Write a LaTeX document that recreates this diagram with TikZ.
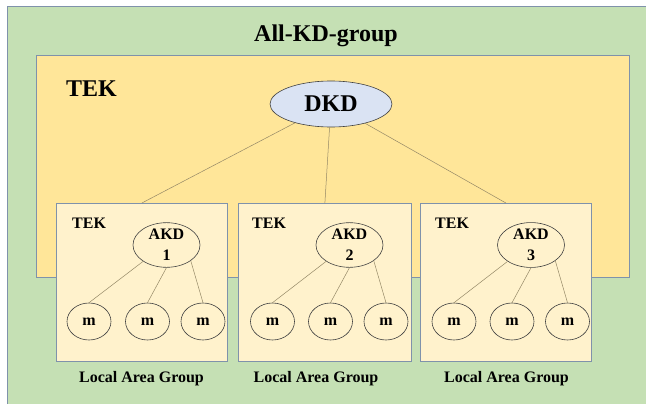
\documentclass[tikz,border=0pt]{standalone}
\usepackage{fontspec}
\setmainfont{Liberation Serif}
\usepackage{tikz}
\usetikzlibrary{shapes.geometric}
\definecolor{allgreen}{HTML}{C5E0B4}
\definecolor{tekorange}{HTML}{FFE699}
\definecolor{lagcream}{HTML}{FFF2CC}
\definecolor{dkdblue}{HTML}{DAE3F3}
\definecolor{frameblue}{HTML}{7F92AB}
\definecolor{linkgray}{HTML}{948866}

\begin{document}
\begin{tikzpicture}[x=1pt, y=-1pt,
    area/.style={draw=frameblue, line width=0.8pt, inner sep=0pt, anchor=north west},
    lag/.style={area, fill=lagcream, minimum width=171pt, minimum height=158pt},
    kd/.style={ellipse, draw=black!75, line width=0.6pt, inner sep=0pt, align=center, font=\fontsize{16}{21}\selectfont\bfseries},
    akd/.style={kd, minimum width=67pt, minimum height=44pt},
    mem/.style={kd, minimum width=44pt, minimum height=37pt},
    link/.style={draw=linkgray, line width=0.5pt},
    lbl/.style={inner sep=0pt, font=\fontsize{16}{19}\selectfont\bfseries},
    big/.style={inner sep=0pt, font=\fontsize{24}{28}\selectfont\bfseries},
]
\useasboundingbox (0,0) rectangle (646,404);

% Containers
\node[area, fill=allgreen, minimum width=660pt, minimum height=420pt] (allkd) at (7,6) {};
\node[big] (title) at (326,36) {All-KD-group};
\node[area, fill=tekorange, minimum width=593pt, minimum height=222pt] (tekarea) at (36,55) {};
\node[big, anchor=west] (tek) at (66,89) {TEK};

% Top key distributor
\node[kd, fill=dkdblue, minimum width=122pt, minimum height=46pt, font=\fontsize{24}{28}\selectfont\bfseries] (DKD) at (331,104) {DKD};

% Local area group 1
\node[lag] (lag1) at (56,203) {};
\node[lbl, anchor=west] (tek1) at (72,223) {TEK};
\node[akd] (akd1) at (166.5,245) {AKD\\1};
\node[mem] (m11) at (89,321.5) {m};
\node[mem] (m12) at (147.5,321.5) {m};
\node[mem] (m13) at (203,321.5) {m};
\node[lbl] (name1) at (141.5,379) {Local Area Group};

% Local area group 2
\node[lag, minimum width=173pt] (lag2) at (238,203) {};
\node[lbl, anchor=west] (tek2) at (252,223) {TEK};
\node[akd] (akd2) at (349.5,245) {AKD\\2};
\node[mem] (m21) at (272.5,321.5) {m};
\node[mem] (m22) at (330.5,321.5) {m};
\node[mem] (m23) at (386,321.5) {m};
\node[lbl] (name2) at (316,379) {Local Area Group};

% Local area group 3
\node[lag] (lag3) at (420,203) {};
\node[lbl, anchor=west] (tek3) at (435,223) {TEK};
\node[akd] (akd3) at (531,245) {AKD\\3};
\node[mem] (m31) at (454,321.5) {m};
\node[mem] (m32) at (512,321.5) {m};
\node[mem] (m33) at (567.5,321.5) {m};
\node[lbl] (name3) at (506.5,379) {Local Area Group};

% Links
\draw[link] (DKD) -- (lag1.north);
\draw[link] (DKD) -- (lag2.north);
\draw[link] (DKD) -- (lag3.north);
\draw[link] (akd1.215) -- (m11.north);
\draw[link] (akd1.south) -- (m12.north);
\draw[link] (akd1.327) -- (m13.north);
\draw[link] (akd2.215) -- (m21.north);
\draw[link] (akd2.south) -- (m22.north);
\draw[link] (akd2.327) -- (m23.north);
\draw[link] (akd3.215) -- (m31.north);
\draw[link] (akd3.south) -- (m32.north);
\draw[link] (akd3.327) -- (m33.north);

\end{tikzpicture}
\end{document}
